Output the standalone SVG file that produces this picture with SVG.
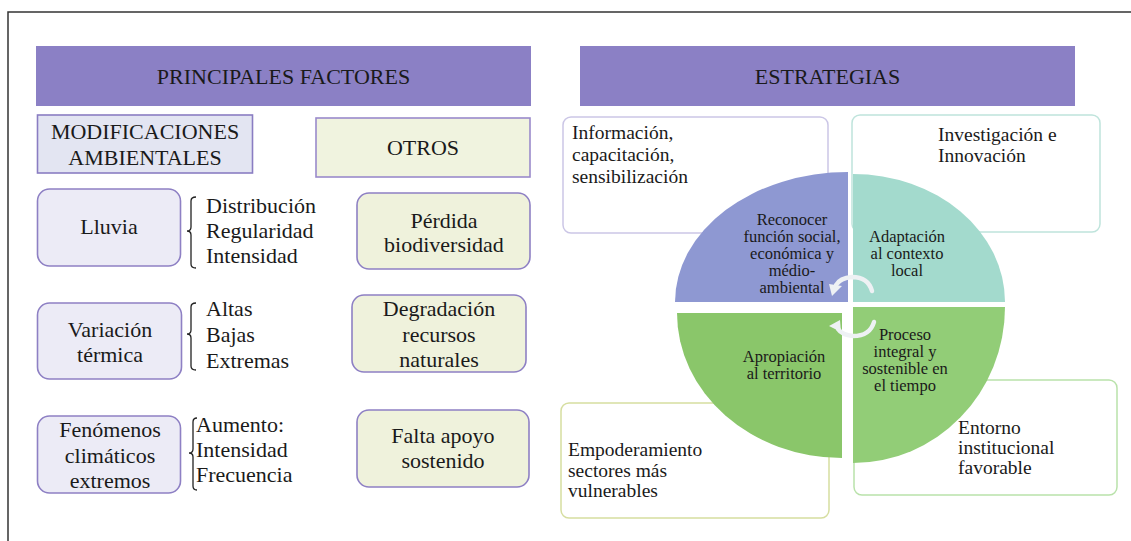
<svg xmlns="http://www.w3.org/2000/svg" width="1131" height="541" viewBox="0 0 1131 541" font-family="'Liberation Serif', 'DejaVu Serif', serif">
<style>
text{font-family:'Liberation Serif','DejaVu Serif',serif;fill:#1a1a1a}
.t21{font-size:22px}
.t19{font-size:19.5px}
.t17{font-size:16.5px}
.mid{text-anchor:middle}
.hdr{fill:#8b80c5}
.boxA{fill:#e3e5f2;stroke:#8a7dc2;stroke-width:1.6}
.boxB{fill:#f0f3df;stroke:#9a8acb;stroke-width:1.6}
.rA{fill:#ecebf6;stroke:#8e80c4;stroke-width:1.6}
.rB{fill:#eff2dc;stroke:#8e80c4;stroke-width:1.6}
.brk{fill:none;stroke:#222;stroke-width:1.3}
.sbox{fill:#fff;stroke-width:1.5}
.arr{fill:none;stroke:#eef1f4;stroke-width:4.5;stroke-linecap:round}
.ah{fill:#eef1f4}
</style>
<rect x="0" y="0" width="1131" height="541" fill="#fff"/>
<g id="frame"><path d="M8,541 L8,12 L1131,12" fill="none" stroke="#333" stroke-width="1.5"/></g>

<g id="hdr-factores"><rect class="hdr" x="36" y="46" width="495" height="60"/><text class="t21 mid" x="283.5" y="84">PRINCIPALES FACTORES</text></g>
<g id="hdr-estrategias"><rect class="hdr" x="580" y="46" width="495" height="60"/><text class="t21 mid" x="827.5" y="84">ESTRATEGIAS</text></g>

<g id="modificaciones"><rect class="boxA" x="37.5" y="115" width="215" height="58"/><text class="t21 mid" x="145" y="139">MODIFICACIONES</text><text class="t21 mid" x="145" y="165">AMBIENTALES</text></g>
<g id="otros"><rect class="boxB" x="316" y="118" width="214" height="59"/><text class="t21 mid" x="423" y="155">OTROS</text></g>

<g id="lluvia"><rect class="rA" x="37.5" y="189" width="143" height="77" rx="12"/><text class="t21 mid" x="109" y="234">Lluvia</text></g>
<g id="lluvia-list"><path class="brk" d="M196,197 Q191,197 191,201 L191,227 Q191,231 187,231 Q191,231 191,235 L191,264 Q191,268 196,268"/><text class="t21" x="206" y="213">Distribución</text><text class="t21" x="206" y="238">Regularidad</text><text class="t21" x="206" y="263">Intensidad</text></g>

<g id="variacion"><rect class="rA" x="37.5" y="303" width="144" height="76" rx="12"/><text class="t21 mid" x="110" y="337">Variación</text><text class="t21 mid" x="110" y="362">térmica</text></g>
<g id="variacion-list"><path class="brk" d="M196,303 Q191,303 191,307 L191,330 Q191,334 187,334 Q191,334 191,338 L191,366 Q191,370 196,370"/><text class="t21" x="206" y="316">Altas</text><text class="t21" x="206" y="342">Bajas</text><text class="t21" x="206" y="368">Extremas</text></g>

<g id="fenomenos"><rect class="rA" x="37.5" y="416" width="143" height="77" rx="12"/><text class="t21 mid" x="110" y="437">Fenómenos</text><text class="t21 mid" x="110" y="463">climáticos</text><text class="t21 mid" x="110" y="488">extremos</text></g>
<g id="fenomenos-list"><path class="brk" d="M197,418 Q193,418 193,422 L193,449 Q193,453 189,453 Q193,453 193,457 L193,486 Q193,490 197,490"/><text class="t21" x="196" y="432">Aumento:</text><text class="t21" x="196" y="457">Intensidad</text><text class="t21" x="196" y="482">Frecuencia</text></g>

<g id="perdida"><rect class="rB" x="357" y="193" width="173" height="76" rx="12"/><text class="t21 mid" x="444" y="228">Pérdida</text><text class="t21 mid" x="444" y="252">biodiversidad</text></g>
<g id="degradacion"><rect class="rB" x="352" y="295" width="174" height="77" rx="12"/><text class="t21 mid" x="439" y="316">Degradación</text><text class="t21 mid" x="439" y="342">recursos</text><text class="t21 mid" x="439" y="367">naturales</text></g>
<g id="falta"><rect class="rB" x="357" y="410" width="172" height="77" rx="12"/><text class="t21 mid" x="443" y="443">Falta apoyo</text><text class="t21 mid" x="443" y="468">sostenido</text></g>

<g id="informacion"><rect class="sbox" stroke="#cbc6e6" x="563" y="117" width="265" height="116" rx="8"/><text class="t19" x="572" y="139">Información,</text><text class="t19" x="572" y="161">capacitación,</text><text class="t19" x="572" y="183">sensibilización</text></g>
<g id="investigacion"><rect class="sbox" stroke="#bfe4dc" x="852" y="115" width="248" height="117" rx="8"/><text class="t19" x="938" y="141">Investigación e</text><text class="t19" x="938" y="162">Innovación</text></g>
<g id="empoderamiento"><rect class="sbox" stroke="#d6dea0" x="561" y="403" width="268" height="115" rx="8"/><text class="t19" x="568" y="456">Empoderamiento</text><text class="t19" x="568" y="477">sectores más</text><text class="t19" x="568" y="497">vulnerables</text></g>
<g id="entorno"><rect class="sbox" stroke="#b9e2aa" x="854" y="380" width="263" height="115" rx="8"/><text class="t19" x="958" y="434">Entorno</text><text class="t19" x="958" y="454">institucional</text><text class="t19" x="958" y="474">favorable</text></g>

<g id="q-reconocer"><path fill="#8e98d2" d="M848,302 L675,302 A173,130 0 0 1 848,172 Z"/><text class="t17 mid" x="792" y="225">Reconocer</text><text class="t17 mid" x="792" y="242">función social,</text><text class="t17 mid" x="792" y="259">económica y</text><text class="t17 mid" x="792" y="276">médio-</text><text class="t17 mid" x="792" y="293">ambiental</text></g>
<g id="q-adaptacion"><path fill="#a3dacd" d="M853,302 L853,174 A152,128 0 0 1 1005,302 Z"/><text class="t17 mid" x="907" y="242">Adaptación</text><text class="t17 mid" x="907" y="259">al contexto</text><text class="t17 mid" x="907" y="276">local</text></g>
<g id="q-apropiacion"><path fill="#8ac66a" d="M842,313 L842,458 A165,145 0 0 1 677,313 Z"/><text class="t17 mid" x="784" y="362">Apropiación</text><text class="t17 mid" x="784" y="379">al territorio</text></g>
<g id="q-proceso"><path fill="#92cd77" d="M853,307 L1005,307 A152,156 0 0 1 853,463 Z"/><text class="t17 mid" x="905" y="340">Proceso</text><text class="t17 mid" x="905" y="357">integral y</text><text class="t17 mid" x="905" y="374">sostenible en</text><text class="t17 mid" x="905" y="391">el tiempo</text></g>

<g id="connectors">
<path class="arr" d="M872,291 Q868,277 852,277 Q840,278 836,285"/>
<polygon class="ah" points="829,284 842,286 832,296"/>
<path class="arr" d="M874,322 Q870,336 853,336 Q842,335 838,329"/>
<polygon class="ah" points="829,326 840,320 841,332"/>
</g>
</svg>
